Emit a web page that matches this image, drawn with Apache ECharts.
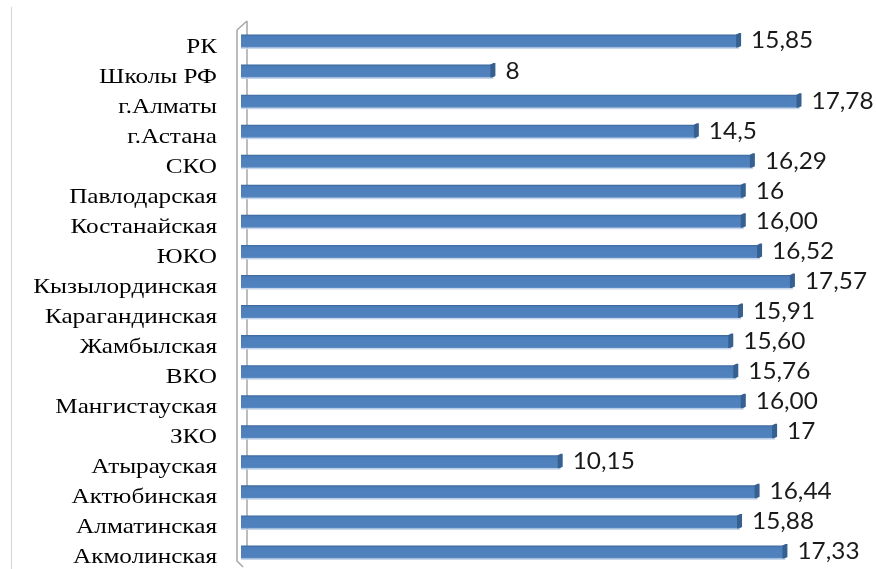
<!DOCTYPE html>
<html>
<head>
<meta charset="utf-8">
<script src="https://cdn.jsdelivr.net/npm/echarts@6/dist/echarts.min.js"></script>
<style>
html,body{margin:0;padding:0;background:#fff;}
#chart{width:876px;height:569px;}
</style>
</head>
<body>
<div id="chart"></div>
<script>
const categories = ["РК","Школы РФ","г.Алматы","г.Астана","СКО","Павлодарская","Костанайская","ЮКО","Кызылординская","Карагандинская","Жамбылская","ВКО","Мангистауская","ЗКО","Атырауская","Актюбинская","Алматинская","Акмолинская"];
const values = [15.85,8,17.78,14.5,16.29,16,16.00,16.52,17.57,15.91,15.60,15.76,16.00,17,10.15,16.44,15.88,17.33];
const valueLabels = ["15,85","8","17,78","14,5","16,29","16","16,00","16,52","17,57","15,91","15,60","15,76","16,00","17","10,15","16,44","15,88","17,33"];

const chart = echarts.init(document.getElementById('chart'));
const data = values.map((v,i)=>[v,i]);

function renderItem(params, api){
  const v = api.value(0), idx = api.value(1);
  const s = api.coord([0, idx]);
  const e = api.coord([v, idx]);
  const c = e[1];
  const h = 13;
  const x0 = s[0]-4, x1 = e[0];
  const lx = s[0]-28;
  return {
    type:'group',
    children:[
      {type:'rect', shape:{x:x0, y:c-h/2+h, width:x1-x0-2, height:1.5}, style:{fill:'#c9d7ea'}},
      {type:'rect', shape:{x:x0, y:c-h/2, width:x1-x0-4, height:h},
       style:{fill:new echarts.graphic.LinearGradient(0,0,0,1,[
         {offset:0,color:'#3b6597'},{offset:0.14,color:'#4b7dba'},{offset:0.5,color:'#4f81bd'},{offset:0.86,color:'#4f81bd'},{offset:1,color:'#5f8dc6'}])}},
      {type:'polygon', shape:{points:[[x1-5,c-h/2],[x1-2,c-h/2-1.5],[x1,c-h/2-1.5],[x1,c+h/2-1.5],[x1-3,c+h/2],[x1-5,c+h/2]]},
       style:{fill:'#36608f'}},
      {type:'text', x:x1+10, y:c, scaleX:1.06, style:{text:valueLabels[params.dataIndex], fill:'#1a1a1a', font:'23px Lato', verticalAlign:'middle', align:'left'}},
      {type:'text', x:lx, y:c+6, scaleX:1.2, style:{text:categories[idx], fill:'#000', font:'21px "Liberation Serif"', verticalAlign:'middle', align:'right'}}
    ]
  };
}

chart.setOption({
  animation:false,
  grid:{left:245, width:626, top:26, height:541},
  xAxis:{type:'value', min:0, max:20, show:false},
  yAxis:{type:'category', data:categories, inverse:true,
    axisLine:{show:false}, axisTick:{show:false}, splitLine:{show:false},
    axisLabel:{show:false}},
  series:[{type:'custom', renderItem:renderItem, data:data, z:5, encode:{x:0,y:1}}],
  graphic:[
    {type:'polyline', z:1, shape:{points:[[247,21],[237,30],[237,561],[243,567]]}, style:{stroke:'#a6a6a6', lineWidth:1.5, fill:null}},
    {type:'line', z:1, shape:{x1:247,y1:21,x2:247,y2:556}, style:{stroke:'#a6a6a6', lineWidth:1.5}},
    {type:'line', z:1, shape:{x1:11.5,y1:7,x2:11.5,y2:569}, style:{stroke:'#d4d4d4', lineWidth:1}}
  ]
});
</script>
</body>
</html>
